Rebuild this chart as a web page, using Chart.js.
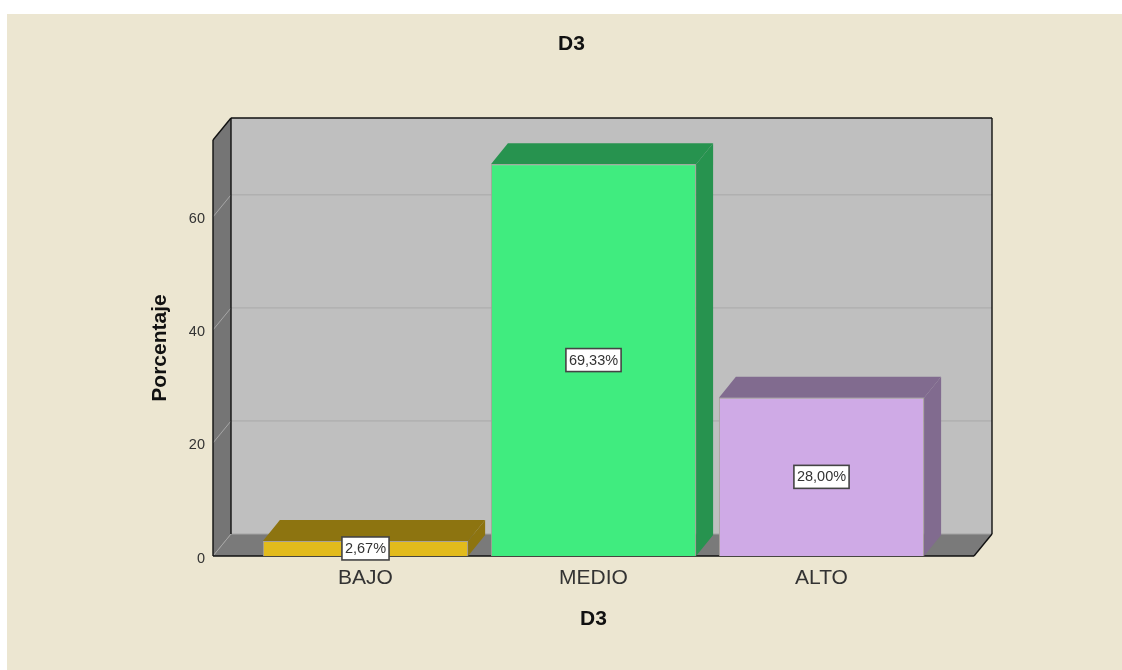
<!DOCTYPE html>
<html>
<head>
<meta charset="utf-8">
<title>D3</title>
<script src="https://cdn.jsdelivr.net/npm/chart.js@4"></script>
<style>
  html, body { margin: 0; background: #fff; }
  #panel { position: absolute; left: 7px; top: 14px; width: 1115px; height: 656px; background: #ece6d1; }
  canvas { position: absolute; left: 0; top: 0; }
</style>
</head>
<body>
<div id="panel"></div>
<canvas id="grafico" width="1122" height="670"></canvas>
<script>
// Données
const categories = ["BAJO", "MEDIO", "ALTO"];
const valeurs = [2.67, 69.33, 28.00];
const etiquettes = ["2,67%", "69,33%", "28,00%"];
const yTicks = [0, 20, 40, 60];
const yMax = 73.6;

const couleurs = ["#e2bb1c", "#40ec7f", "#cfaae6"];
const couleursOmbre = ["#8d7410", "#27934f", "#816b8f"];

// Décalage de la perspective
const profX = 18;
const profY = 22;
// Le plan avant dépasse la zone des barres de chaque côté
const debord = 38.5;

function poly(ctx, pts, fill, stroke) {
  ctx.beginPath();
  ctx.moveTo(pts[0][0], pts[0][1]);
  for (let i = 1; i < pts.length; i++) ctx.lineTo(pts[i][0], pts[i][1]);
  ctx.closePath();
  if (fill) { ctx.fillStyle = fill; ctx.fill(); }
  if (stroke) { ctx.strokeStyle = stroke; ctx.lineWidth = 1; ctx.stroke(); }
}

function ligne(ctx, x1, y1, x2, y2, couleur, ep) {
  ctx.beginPath();
  ctx.moveTo(x1, y1);
  ctx.lineTo(x2, y2);
  ctx.strokeStyle = couleur;
  ctx.lineWidth = ep;
  ctx.stroke();
}

// Murs, sol, grille et faces cachées des barres
const decor3d = {
  id: "decor3d",
  beforeDatasetsDraw(chart) {
    const ctx = chart.ctx;
    const a = chart.chartArea;
    const g = a.left - debord;
    const d = a.right + debord;
    const h = a.top;
    const b = a.bottom;
    ctx.save();
    poly(ctx, [[g + profX, h - profY], [d + profX, h - profY], [d + profX, b - profY], [g + profX, b - profY]], "#bfbfbf");
    poly(ctx, [[g, h], [g + profX, h - profY], [g + profX, b - profY], [g, b]], "#757575");
    poly(ctx, [[g, b], [g + profX, b - profY], [d + profX, b - profY], [d, b]], "#7a7a7a");

    yTicks.forEach(function (t) {
      if (t === 0) return;
      const y = chart.scales.y.getPixelForValue(t);
      ligne(ctx, g, y, g + profX, y - profY, "#a6a6a6", 1);
      ligne(ctx, g + profX, y - profY, d + profX, y - profY, "#a9a9a9", 1);
    });
    ligne(ctx, g, b, g + profX, b - profY, "#a6a6a6", 1);
    ligne(ctx, g + profX, b - profY, d + profX, b - profY, "#a3a3a3", 1);

    // contour noir
    ligne(ctx, g, b, g, h, "#111", 1.4);
    ligne(ctx, g, h, g + profX, h - profY, "#111", 1.4);
    ligne(ctx, g + profX, h - profY, d + profX, h - profY, "#111", 1.4);
    ligne(ctx, g + profX, h - profY, g + profX, b - profY, "#111", 1.4);
    ligne(ctx, d + profX, h - profY, d + profX, b - profY, "#111", 1.4);
    ligne(ctx, d + profX, b - profY, d, b, "#111", 1.4);
    ligne(ctx, g, b, d, b, "#111", 1.4);

    const barres = chart.getDatasetMeta(0).data;
    barres.forEach(function (barre, i) {
      const x1 = barre.x - barre.width / 2;
      const x2 = barre.x + barre.width / 2;
      const px = profX - 1;
      const py = profY - 1;
      poly(ctx, [[x1, barre.y], [x1 + px, barre.y - py], [x2 + px, barre.y - py], [x2, barre.y]], couleursOmbre[i]);
      poly(ctx, [[x2, barre.y], [x2 + px, barre.y - py], [x2 + px, barre.base - py], [x2, barre.base]], couleursOmbre[i]);
    });
    ctx.restore();
  }
};

// Étiquettes blanches au centre des barres, et titre général
const textes = {
  id: "textes",
  afterDraw(chart) {
    const ctx = chart.ctx;
    ctx.save();
    ctx.font = "14.5px 'Liberation Sans'";
    ctx.textAlign = "center";
    ctx.textBaseline = "middle";
    chart.getDatasetMeta(0).data.forEach(function (barre, i) {
      const cy = (barre.y + barre.base) / 2;
      const l = ctx.measureText(etiquettes[i]).width + 6;
      ctx.fillStyle = "#fff";
      ctx.fillRect(barre.x - l / 2, cy - 11.5, l, 23);
      ctx.strokeStyle = "#444";
      ctx.lineWidth = 1.6;
      ctx.strokeRect(barre.x - l / 2, cy - 11.5, l, 23);
      ctx.fillStyle = "#333";
      ctx.fillText(etiquettes[i], barre.x, cy + 0.5);
    });
    ctx.font = "bold 21px 'Liberation Sans'";
    ctx.fillStyle = "#111";
    ctx.fillText("D3", 571.5, 44);
    ctx.restore();
  }
};

new Chart(document.getElementById("grafico"), {
  type: "bar",
  data: {
    labels: categories,
    datasets: [{
      data: valeurs,
      backgroundColor: couleurs,
      borderColor: "#a8a29a",
      borderWidth: 1,
      barPercentage: 0.9,
      categoryPercentage: 1
    }]
  },
  options: {
    responsive: false,
    animation: false,
    layout: { padding: { top: 140, right: 186.5, left: 0, bottom: 0 } },
    plugins: {
      legend: { display: false },
      tooltip: { enabled: false }
    },
    scales: {
      x: {
        grid: { display: false },
        border: { display: false },
        ticks: { color: "#333", font: { family: "'Liberation Sans'", size: 21 }, padding: 1.5, maxRotation: 0 },
        title: { display: true, text: "D3", color: "#111", font: { family: "'Liberation Sans'", size: 21, weight: "bold" }, padding: { top: 0, bottom: 38 } },
        afterFit(scale) { scale.height = 114; }
      },
      y: {
        min: 0,
        max: yMax,
        grid: { display: false },
        border: { display: false },
        ticks: { stepSize: 20, includeBounds: false, color: "#333", font: { family: "'Liberation Sans'", size: 14.5 }, padding: 38.5, labelOffset: 2.5 },
        title: { display: true, text: "Porcentaje", color: "#111", font: { family: "'Liberation Sans'", size: 21, weight: "bold" }, padding: { top: 148, bottom: 0 } },
        afterFit(scale) { scale.width = 251.5; }
      }
    }
  },
  plugins: [decor3d, textes]
});
</script>
</body>
</html>
